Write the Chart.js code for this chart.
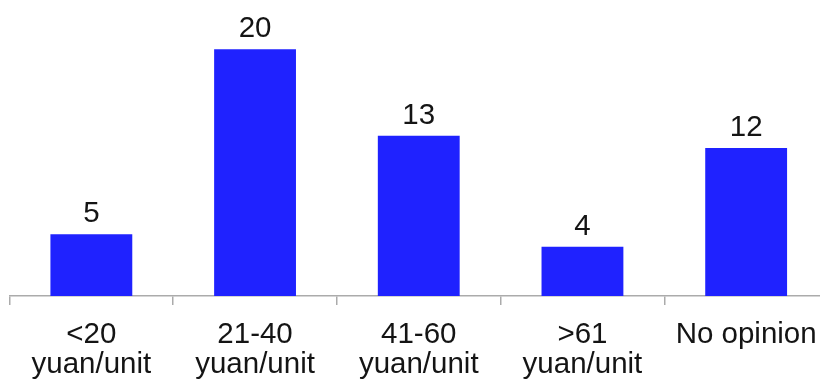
<!DOCTYPE html>
<html>
<head>
<meta charset="utf-8">
<script src="https://cdn.jsdelivr.net/npm/chart.js@4/dist/chart.umd.min.js"></script>
<style>
  html, body { margin: 0; padding: 0; background: #fff; overflow: hidden; }
  #wrap { width: 820px; height: 380px; overflow: hidden; position: relative; }
  #box { position: absolute; left: 0; top: 0; width: 840px; height: 380px; }
</style>
</head>
<body>
<div id="wrap"><div id="box"><canvas id="c"></canvas></div></div>
<script>
// Price ranges people would pay, and how many respondents chose each
const categories = [["<20", "yuan/unit"], ["21-40", "yuan/unit"], ["41-60", "yuan/unit"], [">61", "yuan/unit"], "No opinion"];
const counts = [5, 20, 13, 4, 12];

const FONT = '"Liberation Sans", Arial, Helvetica, sans-serif';
const TEXT = '#141414';
const AXIS = '#ababab';

// Writes each bar's count above it
const valueLabels = {
  id: 'valueLabels',
  afterDatasetsDraw(chart) {
    const ctx = chart.ctx;
    const meta = chart.getDatasetMeta(0);
    ctx.save();
    ctx.font = '29.5px ' + FONT;
    ctx.fillStyle = TEXT;
    ctx.textAlign = 'center';
    ctx.textBaseline = 'alphabetic';
    meta.data.forEach((bar, i) => {
      ctx.fillText(String(counts[i]), bar.x, bar.y - 12);
    });
    ctx.restore();
  }
};

new Chart(document.getElementById('c'), {
  type: 'bar',
  data: {
    labels: categories,
    datasets: [{
      data: counts,
      backgroundColor: '#1f22ff',
      borderWidth: 0,
      categoryPercentage: 1.0,
      barPercentage: 0.5
    }]
  },
  options: {
    responsive: true,
    maintainAspectRatio: false,
    animation: false,
    events: [],
    layout: { padding: { left: 9.5, right: 12, top: 0, bottom: 0 } },
    plugins: { legend: { display: false }, tooltip: { enabled: false } },
    scales: {
      x: {
        afterFit(scale) { scale.height = 84; },
        border: { display: true, color: AXIS, width: 1.5 },
        grid: {
          display: true,
          offset: true,
          drawOnChartArea: false,
          drawTicks: true,
          tickLength: 9,
          color: AXIS,
          lineWidth: 1.5
        },
        ticks: {
          color: TEXT,
          padding: 15,
          maxRotation: 0,
          autoSkip: false,
          font: { family: FONT, size: 29.5, lineHeight: 1.02 }
        }
      },
      y: {
        display: false,
        min: 0,
        max: 24
      }
    }
  },
  plugins: [valueLabels]
});
</script>
</body>
</html>
